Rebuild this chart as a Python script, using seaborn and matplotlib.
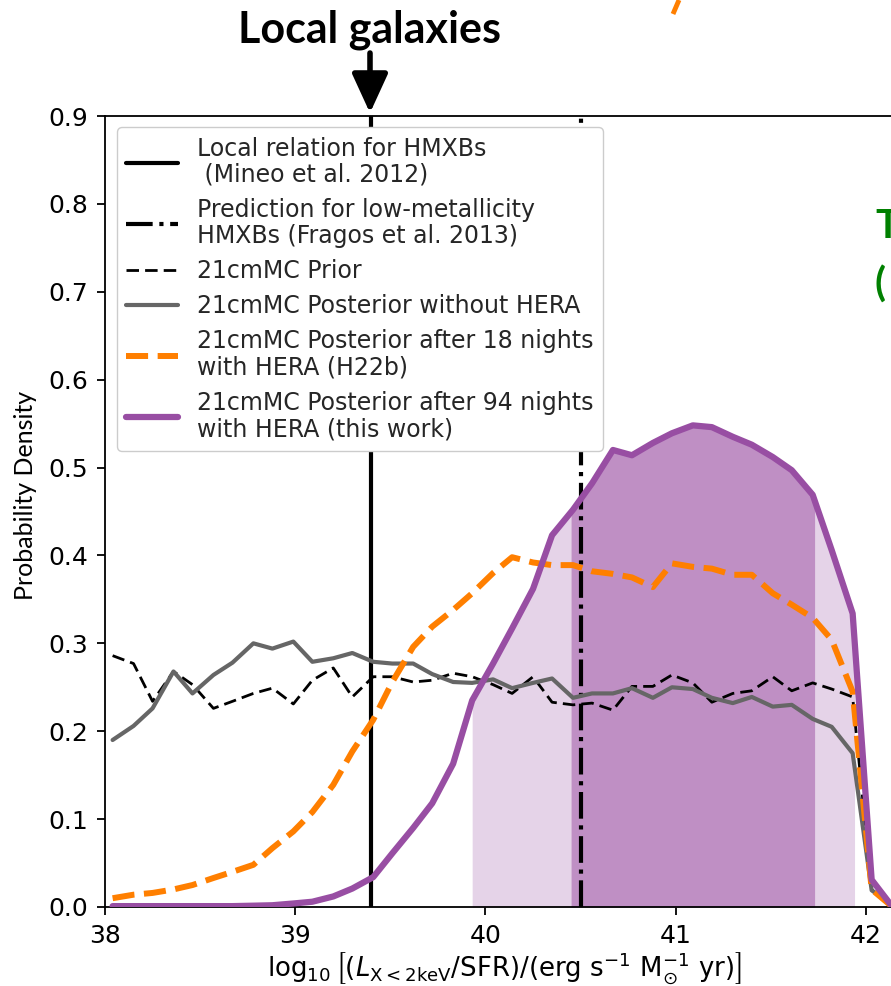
import numpy as np
import pandas as pd
import matplotlib
matplotlib.use("Agg")
import matplotlib.pyplot as plt
import seaborn as sns
from matplotlib.patches import FancyArrowPatch, ArrowStyle
from matplotlib.lines import Line2D

# ---------------- data ----------------
x_vals = [38.04, 38.15, 38.25, 38.36, 38.46, 38.57, 38.67, 38.78, 38.88, 38.99,
          39.09, 39.20, 39.30, 39.41, 39.51, 39.62, 39.72, 39.83, 39.93, 40.04,
          40.14, 40.25, 40.35, 40.46, 40.56, 40.67, 40.77, 40.88, 40.98, 41.09,
          41.19, 41.30, 41.40, 41.51, 41.61, 41.72, 41.82, 41.93, 42.03, 42.14]

prior = [0.286, 0.277, 0.234, 0.268, 0.253, 0.226, 0.234, 0.243, 0.249, 0.231,
         0.258, 0.272, 0.239, 0.262, 0.262, 0.256, 0.258, 0.266, 0.262, 0.253,
         0.243, 0.262, 0.233, 0.230, 0.232, 0.224, 0.251, 0.251, 0.264, 0.255,
         0.233, 0.243, 0.246, 0.262, 0.246, 0.255, 0.248, 0.239, 0.020, 0.000]

post_no_hera = [0.190, 0.206, 0.226, 0.268, 0.243, 0.264, 0.278, 0.300, 0.294, 0.302,
                0.279, 0.283, 0.289, 0.279, 0.277, 0.277, 0.265, 0.256, 0.255, 0.259,
                0.249, 0.255, 0.260, 0.238, 0.243, 0.243, 0.249, 0.238, 0.250, 0.248,
                0.238, 0.232, 0.239, 0.228, 0.230, 0.214, 0.205, 0.175, 0.019, 0.002]

post_h22b = [0.010, 0.014, 0.016, 0.020, 0.025, 0.033, 0.040, 0.048, 0.067, 0.086,
             0.108, 0.139, 0.177, 0.213, 0.256, 0.296, 0.319, 0.338, 0.357, 0.380,
             0.398, 0.392, 0.389, 0.389, 0.382, 0.379, 0.375, 0.364, 0.391, 0.387,
             0.385, 0.378, 0.378, 0.357, 0.344, 0.329, 0.304, 0.245, 0.020, 0.000]

post_this = [0.001, 0.001, 0.001, 0.001, 0.001, 0.001, 0.001, 0.0015, 0.002, 0.004,
             0.006, 0.012, 0.021, 0.034, 0.061, 0.090, 0.118, 0.163, 0.235, 0.277,
             0.317, 0.362, 0.423, 0.452, 0.482, 0.520, 0.514, 0.528, 0.539, 0.548,
             0.546, 0.535, 0.526, 0.512, 0.497, 0.469, 0.406, 0.334, 0.031, 0.000]

mineo_x = 39.40
fragos_x = 40.50
ci95 = [39.93, 41.94]
ci68 = [40.45, 41.73]

labels = ["Local relation for HMXBs\n (Mineo et al. 2012)",
          "Prediction for low-metallicity\nHMXBs (Fragos et al. 2013)",
          "21cmMC Prior",
          "21cmMC Posterior without HERA",
          "21cmMC Posterior after 18 nights\nwith HERA (H22b)",
          "21cmMC Posterior after 94 nights\nwith HERA (this work)"]

x_ticks = [38, 39, 40, 41, 42]
y_ticks = [0.0, 0.1, 0.2, 0.3, 0.4, 0.5, 0.6, 0.7, 0.8, 0.9]

# ---------------- style ----------------
sns.set_theme(style="ticks")
plt.rcParams['font.family'] = ['DejaVu Sans']
plt.rcParams['mathtext.fontset'] = 'dejavusans'

W, H = 891, 986
fig = plt.figure(figsize=(W / 100, H / 100), dpi=100)
fig.patch.set_facecolor('white')
ax = fig.add_axes([105 / W, 79 / H, 799 / W, 791 / H])
ax.set_facecolor('white')

PURPLE = '#984ea3'
ORANGE = '#ff7f00'
GRAY = '#666666'

df = pd.DataFrame({'x': x_vals, 'prior': prior, 'nohera': post_no_hera,
                   'h22b': post_h22b, 'this': post_this})

# shaded credible regions under the purple curve
for (lo, hi), col in [(ci95, '#e5d3e8'), (ci68, '#bf8fc4')]:
    xs = np.linspace(lo, hi, 400)
    ys = np.interp(xs, df['x'], df['this'])
    ax.fill_between(xs, 0, ys, color=col, lw=0, zorder=1)

ax.axvline(mineo_x, color='black', lw=3, ls='-', label=labels[0], zorder=2)
ax.axvline(fragos_x, color='black', lw=3, ls='-.', label=labels[1], zorder=2)

sns.lineplot(data=df, x='x', y='prior', ax=ax, color='black', lw=2,
             linestyle=(0, (4.5, 2.2)), label=labels[2], zorder=3)
sns.lineplot(data=df, x='x', y='nohera', ax=ax, color=GRAY, lw=3,
             label=labels[3], zorder=3)
sns.lineplot(data=df, x='x', y='h22b', ax=ax, color=ORANGE, lw=4.3,
             linestyle='--', label=labels[4], zorder=3)
sns.lineplot(data=df, x='x', y='this', ax=ax, color=PURPLE, lw=4.5,
             label=labels[5], zorder=3)

ax.set_xlim(38, 42.2)
ax.set_ylim(0, 0.9)
ax.set_xticks(x_ticks)
ax.set_xticklabels([str(t) for t in x_ticks])
ax.set_yticks(y_ticks)
ax.set_yticklabels([f"{t:.1f}" for t in y_ticks])
ax.tick_params(axis='both', labelsize=18, length=6, width=1.3, pad=6,
               direction='out', color='black', labelcolor='black')
for sp in ax.spines.values():
    sp.set_linewidth(1.3)
    sp.set_color('black')

ax.set_xlabel(r'$\log_{10}\left[(L_{\rm X<2keV}/{\rm SFR})/({\rm erg\ s^{-1}\ M_{\odot}^{-1}\ yr})\right]$',
              fontsize=18.7, color='black', labelpad=2)
ax.set_ylabel('Probability Density', fontsize=18, family=['Lato', 'DejaVu Sans'],
              color='black')
ax.yaxis.set_label_coords(-0.085, 0.52)

leg = ax.legend(loc='upper left', bbox_to_anchor=(0.015, 0.986), borderaxespad=0,
                fontsize=17, handlelength=2.2, labelspacing=0.47, frameon=True,
                framealpha=1.0, edgecolor='#cccccc', fancybox=True)
for t in leg.get_texts():
    t.set_linespacing(1.12)
leg.set_zorder(10)

# ---------------- annotations outside the axes ----------------
fig.text(370 / W, 1 - 43 / H, 'Local galaxies', fontsize=31, fontweight='bold',
         family=['Lato', 'DejaVu Sans'], ha='center', va='baseline', color='black')
arrow = FancyArrowPatch((370 / W, 1 - 53 / H), (370 / W, 1 - 113 / H),
                        transform=fig.transFigure,
                        arrowstyle=ArrowStyle('-|>', head_length=1.2, head_width=0.55),
                        mutation_scale=20, lw=4, color='black',
                        shrinkA=0, shrinkB=0)
fig.add_artist(arrow)
fig.add_artist(Line2D([679 / W, 673 / W], [1.0, 1 - 14 / H], transform=fig.transFigure,
                      color=ORANGE, lw=3.5, solid_capstyle='butt'))
fig.text(875 / W, 1 - 238 / H, 'T', fontsize=29, fontweight='bold',
         family=['Lato', 'DejaVu Sans'], color='#008000', ha='left', va='baseline')
fig.text(875 / W, 1 - 297 / H, '(', fontsize=29, fontweight='bold',
         family=['Lato', 'DejaVu Sans'], color='#008000', ha='left', va='baseline')

fig.savefig('out.png', dpi=100, facecolor='white')
